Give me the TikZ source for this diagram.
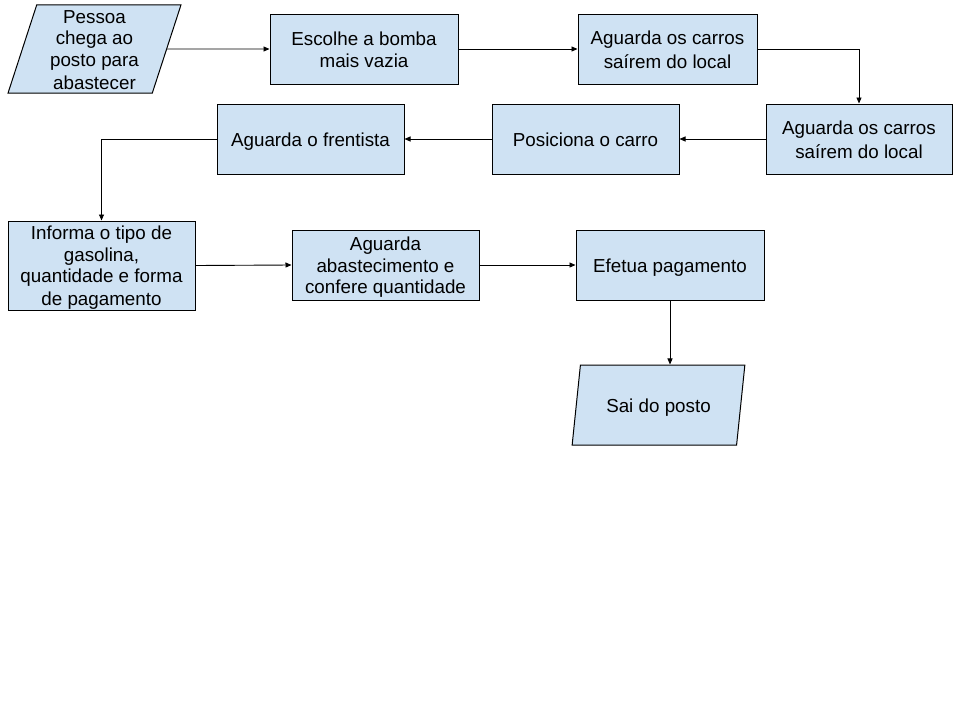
\documentclass[tikz,border=0pt]{standalone}
\usepackage{fontspec}
\setmainfont{Liberation Sans}
\usetikzlibrary{shapes.geometric,arrows.meta}
\definecolor{boxfill}{HTML}{CFE2F3}
\newcommand{\tb}{\rule[-3.25pt]{0pt}{21.5pt}}
\tikzset{
  box/.style={draw=black, fill=boxfill, line width=1pt, align=center,
    inner sep=0pt, font=\fontsize{18.8}{21.7}\selectfont},
  rbox/.style={box, rectangle, minimum width=#1, minimum height=70},
  pbox/.style={box, trapezium, trapezium left angle=75.96, trapezium right angle=104.04,
    trapezium stretches=true, minimum width=173},
  conn/.style={draw=black, line width=0.9pt, -{Triangle[length=6pt,width=5pt]}}
}
\begin{document}
\begin{tikzpicture}[x=1pt,y=-1pt]
\useasboundingbox (0,0) rectangle (960,720);
\fill[white] (0,0) rectangle (960,720);

\node[pbox, minimum height=88] (p1) at (94.5,49) {\tb Pessoa\\chega ao\\posto para\\abastecer\tb};
\node[rbox=188] (r2) at (364,49) {\tb Escolhe a bomba\\mais vazia\tb};
\node[rbox=179] (r3) at (667.5,49) {\tb Aguarda os carros\\saírem do local\tb};
\node[rbox=186] (r4) at (859,139) {\tb Aguarda os carros\\saírem do local\tb};
\node[rbox=187] (r5) at (585.5,139) {\tb Posiciona o carro\tb};
\node[rbox=187] (r6) at (310.5,139) {\tb Aguarda o frentista\tb};
\node[rbox=187, minimum height=89] (r7) at (101.5,265.5) {\tb Informa o tipo de\\gasolina,\\quantidade e forma\\de pagamento\tb};
\node[rbox=187] (r8) at (385.5,265) {\tb Aguarda\\abastecimento e\\confere quantidade\tb};
\node[rbox=188] (r9) at (670,265) {\tb Efetua pagamento\tb};
\node[pbox, minimum height=80] (p2) at (658.5,405) {\tb Sai do posto\tb};

\draw[conn] (p1.east) -- (r2.west);
\draw[conn] (r2.east) -- (r3.west);
\draw[conn] (r3.east) -| (r4.north);
\draw[conn] (r4.west) -- (r5.east);
\draw[conn] (r5.west) -- (r6.east);
\draw[conn] (r6.west) -| (r7.north);
\draw[conn] (r7.east) -- (r8.west);
\draw[conn] (r8.east) -- (r9.west);
\draw[conn] (r9.south) -- (r9.south |- p2.north);
\end{tikzpicture}
\end{document}
